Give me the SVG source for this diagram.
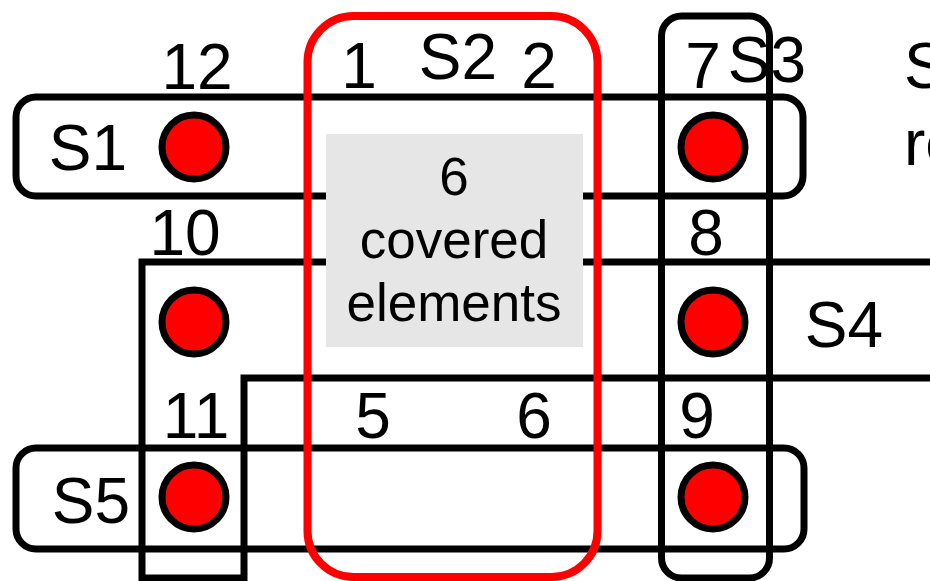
<svg xmlns="http://www.w3.org/2000/svg" width="930" height="581" viewBox="0 0 930 581">
<style>
.set{fill:none;stroke:#000;stroke-width:7;stroke-linejoin:miter}
.red{fill:none;stroke:#ff0000;stroke-width:8}
.el{fill:#ff0000;stroke:#000;stroke-width:7}
.lbl{font-family:"Liberation Sans",Arial,sans-serif;font-size:64px;fill:#000;text-anchor:middle}
.gt{font-family:"Liberation Sans",Arial,sans-serif;font-size:53px;fill:#000;text-anchor:middle}
</style>
<rect width="930" height="581" fill="#fff"/>
<g id="connectors"></g>
<g id="S1"><rect class="set" x="16" y="97" width="787" height="99" rx="20"/><text class="lbl" x="88" y="170">S1</text></g>
<g id="S3"><rect class="set" x="661.5" y="16" width="108" height="562" rx="20"/><text class="lbl" x="767" y="82">S3</text></g>
<g id="S4"><path class="set" d="M142,578 V262 H940 V378 H244 V578 Z"/><text class="lbl" x="844" y="347">S4</text></g>
<g id="S5"><rect class="set" x="16" y="448" width="788" height="101" rx="20"/><text class="lbl" x="91" y="523">S5</text></g>
<g id="covered"><rect x="326" y="134" width="257" height="213" fill="#e6e6e6"/>
<text class="gt" x="454" y="195">6</text><text class="gt" x="454" y="258">covered</text><text class="gt" x="454" y="321">elements</text></g>
<g id="S2"><rect class="red" x="307.5" y="16" width="290" height="561" rx="46"/><text class="lbl" x="458" y="79">S2</text></g>
<g id="e12"><circle class="el" cx="194" cy="147" r="32"/><text class="lbl" x="197" y="89">12</text></g>
<g id="e7"><circle class="el" cx="713" cy="147" r="32"/><text class="lbl" x="703" y="88">7</text></g>
<g id="e10"><circle class="el" cx="194" cy="322" r="32"/><text class="lbl" x="185" y="255">10</text></g>
<g id="e8"><circle class="el" cx="713" cy="322" r="32"/><text class="lbl" x="706" y="255">8</text></g>
<g id="e11"><circle class="el" cx="194" cy="497" r="32"/><text class="lbl" x="196" y="438">11</text></g>
<g id="e9"><circle class="el" cx="713" cy="497" r="32"/><text class="lbl" x="697" y="438">9</text></g>
<g id="e1"><text class="lbl" x="359" y="88">1</text></g>
<g id="e2"><text class="lbl" x="539" y="88">2</text></g>
<g id="e5"><text class="lbl" x="373" y="438">5</text></g>
<g id="e6"><text class="lbl" x="534" y="438">6</text></g>
<g id="note"><text class="lbl" style="text-anchor:start" x="904" y="88">S</text><text class="lbl" style="text-anchor:start" x="904" y="165">re</text></g>
</svg>
